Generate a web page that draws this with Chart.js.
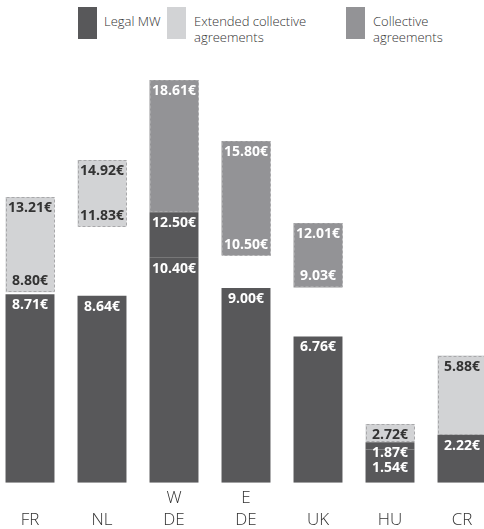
<!DOCTYPE html>
<html>
<head>
<meta charset="utf-8">
<script src="https://cdn.jsdelivr.net/npm/chart.js@4.4.0/dist/chart.umd.min.js"></script>
<style>
  html, body { margin: 0; padding: 0; background: #fff; overflow: hidden; }
  body { width: 484px; height: 529px; position: relative; font-family: "Open Sans", sans-serif; }
  #chart { position: absolute; left: -6px; top: 0; }
  .key { position: absolute; top: 7px; width: 19px; height: 32px; }
  .keytext { position: absolute; top: 13px; font-size: 13px; line-height: 16px; color: #333; font-weight: 300; }
</style>
</head>
<body>
<div class="key" style="left:78px;background:#58585a"></div>
<div class="keytext" style="left:104px">Legal MW</div>
<div class="key" style="left:167px;background:#d2d3d5"></div>
<div class="keytext" style="left:194px">Extended collective<br>agreements</div>
<div class="key" style="left:346px;background:#939396"></div>
<div class="keytext" style="left:373px">Collective<br>agreements</div>
<canvas id="chart" width="504" height="529"></canvas>
<script>
const categories = [['FR'], ['NL'], ['W', 'DE'], ['E', 'DE'], ['UK'], ['HU'], ['CR']];
const legalMW = [8.71, 8.64, 10.40, 9.00, 6.76, 1.54, 2.22];
const legalMWUpper = [null, null, 12.50, null, null, 1.87, null];
const extendedLow = [8.80, 11.83, null, null, null, 1.87, 2.22];
const extendedHigh = [13.21, 14.92, null, null, null, 2.72, 5.88];
const collectiveLow = [null, null, 12.50, 10.50, 9.03, null, null];
const collectiveHigh = [null, null, 18.61, 15.80, 12.01, null, null];

const DARK = '#58585a';
const LIGHT = '#d2d3d5';
const MID = '#939396';

function range(lo, hi) {
    return hi.map((v, i) => (v == null || lo[i] == null) ? null : [lo[i], v]);
}
const zeros = legalMW.map(() => 0);

// dashed outlines + value labels
const valueLabels = {
    id: 'valueLabels',
    afterDatasetsDraw(chart) {
        const ctx = chart.ctx;
        const yScale = chart.scales.y;
        const datasets = chart.data.datasets;

        datasets.forEach((ds, d) => {
            if (!ds.dashed) return;
            chart.getDatasetMeta(d).data.forEach((bar, i) => {
                if (ds.data[i] == null) return;
                const p = bar.getProps(['x', 'y', 'base', 'width'], true);
                ctx.save();
                ctx.setLineDash([3, 2]);
                ctx.strokeStyle = '#a8a8aa';
                ctx.lineWidth = 1;
                ctx.strokeRect(Math.round(p.x - p.width / 2) + 0.5, Math.round(p.y) + 0.5,
                    Math.round(p.width) - 1, Math.round(p.base - p.y) - 1);
                ctx.restore();
            });
        });

        categories.forEach((c, i) => {
            const items = [];
            const tops = datasets.map(ds => ds.data[i] ? ds.data[i][1] : null);
            let x = null;
            datasets.forEach((ds, d) => {
                const r = ds.data[i];
                if (!r) return;
                x = chart.getDatasetMeta(d).data[i].x;
                items.push({ text: r[1].toFixed(2) + '€', y: yScale.getPixelForValue(r[1]) + 11, color: ds.textColor });
                if (r[0] > 0 && !tops.includes(r[0])) {
                    items.push({ text: r[0].toFixed(2) + '€', y: yScale.getPixelForValue(r[0]) - 11, color: ds.textColor });
                }
            });
            items.sort((a, b) => a.y - b.y);
            for (let k = 1; k < items.length; k++) {
                if (items[k].y < items[k - 1].y + 15) items[k].y = items[k - 1].y + 15;
            }
            ctx.save();
            ctx.font = 'bold 14px "Open Sans", sans-serif';
            ctx.textAlign = 'center';
            ctx.textBaseline = 'middle';
            items.forEach(it => {
                ctx.fillStyle = it.color;
                ctx.fillText(it.text, x, it.y);
            });
            ctx.restore();
        });
    }
};

new Chart(document.getElementById('chart').getContext('2d'), {
    type: 'bar',
    data: {
        labels: categories.map(c => c.length === 1 ? ['', c[0]] : c),
        datasets: [
            { label: 'Legal MW', data: range(zeros, legalMW), backgroundColor: DARK, textColor: '#fff' },
            { label: 'Legal MW', data: range(legalMW, legalMWUpper), backgroundColor: DARK, textColor: '#fff' },
            { label: 'Extended collective agreements', data: range(extendedLow, extendedHigh), backgroundColor: LIGHT, textColor: '#333', dashed: true },
            { label: 'Collective agreements', data: range(collectiveLow, collectiveHigh), backgroundColor: MID, textColor: '#fff', dashed: true }
        ]
    },
    options: {
        responsive: false,
        animation: false,
        devicePixelRatio: 1,
        layout: { padding: { top: 50, bottom: -6, left: 0, right: 0 } },
        datasets: { bar: { grouped: false, categoryPercentage: 1, barPercentage: 0.68, borderWidth: 0 } },
        plugins: { legend: { display: false }, tooltip: { enabled: false } },
        scales: {
            x: {
                grid: { display: false, drawTicks: false },
                border: { display: false },
                ticks: {
                    color: '#333',
                    padding: 4,
                    maxRotation: 0,
                    font: { family: '"Open Sans", sans-serif', size: 17, weight: 300, lineHeight: 1.3 }
                }
            },
            y: { display: false, min: 0, max: 20 }
        }
    },
    plugins: [valueLabels]
});
</script>
</body>
</html>
